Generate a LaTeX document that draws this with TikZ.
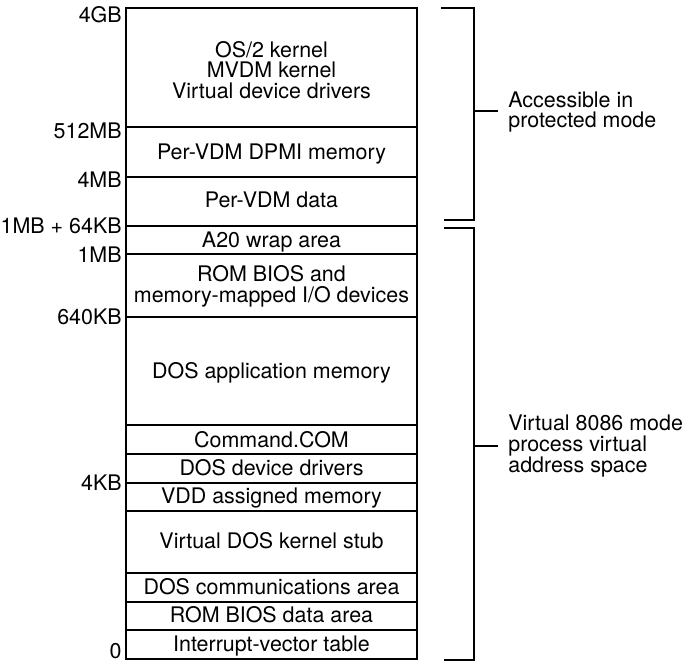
\documentclass[tikz,border=0pt]{standalone}
\usepackage{fontspec}
\setmainfont{TeX Gyre Heros}
\usetikzlibrary{positioning}

\tikzset{
  region/.style={anchor=base,inner sep=0pt},
  blocktext/.style={align=center,inner sep=0pt},
  addr/.style={anchor=east,inner sep=0pt},
  modetext/.style={anchor=west,align=left,inner sep=0pt},
  boxline/.style={line width=0.9pt},
  bracketline/.style={line width=0.6pt},
}

\begin{document}
\begin{tikzpicture}[x=0.02cm,y=-0.02cm,font=\fontsize{12.2}{11.8}\selectfont]
  \useasboundingbox (0,0) rectangle (689,662);
  % address space
  \draw[boxline] (126,8) rectangle (417,659);
  \foreach \y in {127,177,226,254,317,425,454,483,511,573,602,630}
    \draw[boxline] (126,\y) -- (417,\y);
  % addresses at the left
  \foreach \n/\y/\t in {a4gb/15/4GB,a512mb/131/512MB,a4mb/180/4MB,a1mb64/225.5/{1MB + 64KB},
                        a1mb/254.5/1MB,a640kb/317/640KB,a4kb/483/4KB,azero/651.5/0}
    \node[addr] (\n) at (122,\y) {\t};
  % regions
  \node[blocktext] (os2) at (271.5,70) {OS/2 kernel\\MVDM kernel\\Virtual device drivers};
  \node[region] (dpmi) at (271.5,160) {Per-VDM DPMI memory};
  \node[region] (vdmdata) at (271.5,207.5) {Per-VDM data};
  \node[region] (a20) at (271.5,247) {A20 wrap area};
  \node[blocktext] (rombios) at (271.5,286) {ROM BIOS and\\memory-mapped I/O devices};
  \node[region] (dosapp) at (271.5,378) {DOS application memory};
  \node[region] (cmd) at (271.5,447) {Command.COM};
  \node[region] (devdrv) at (271.5,475.5) {DOS device drivers};
  \node[region] (vdd) at (271.5,503.5) {VDD assigned memory};
  \node[region] (stub) at (271.5,548.5) {Virtual DOS kernel stub};
  \node[region] (comm) at (271.5,594) {DOS communications area};
  \node[region] (biosdata) at (271.5,622.5) {ROM BIOS data area};
  \node[region] (ivt) at (271.5,651) {Interrupt-vector table};
  % brackets
  \draw[bracketline] (441,8) -- (474,8) -- (474,220) -- (444,220);
  \draw[bracketline] (474,111) -- (498,111);
  \node[modetext] (prot) at (508,112) {Accessible in\\protected mode};
  \draw[bracketline] (444,228) -- (474,228) -- (474,660) -- (444,660);
  \draw[bracketline] (474,446) -- (498,446);
  \node[modetext] (v86) at (508,446) {Virtual 8086 mode\\process virtual\\address space};
\end{tikzpicture}
\end{document}
